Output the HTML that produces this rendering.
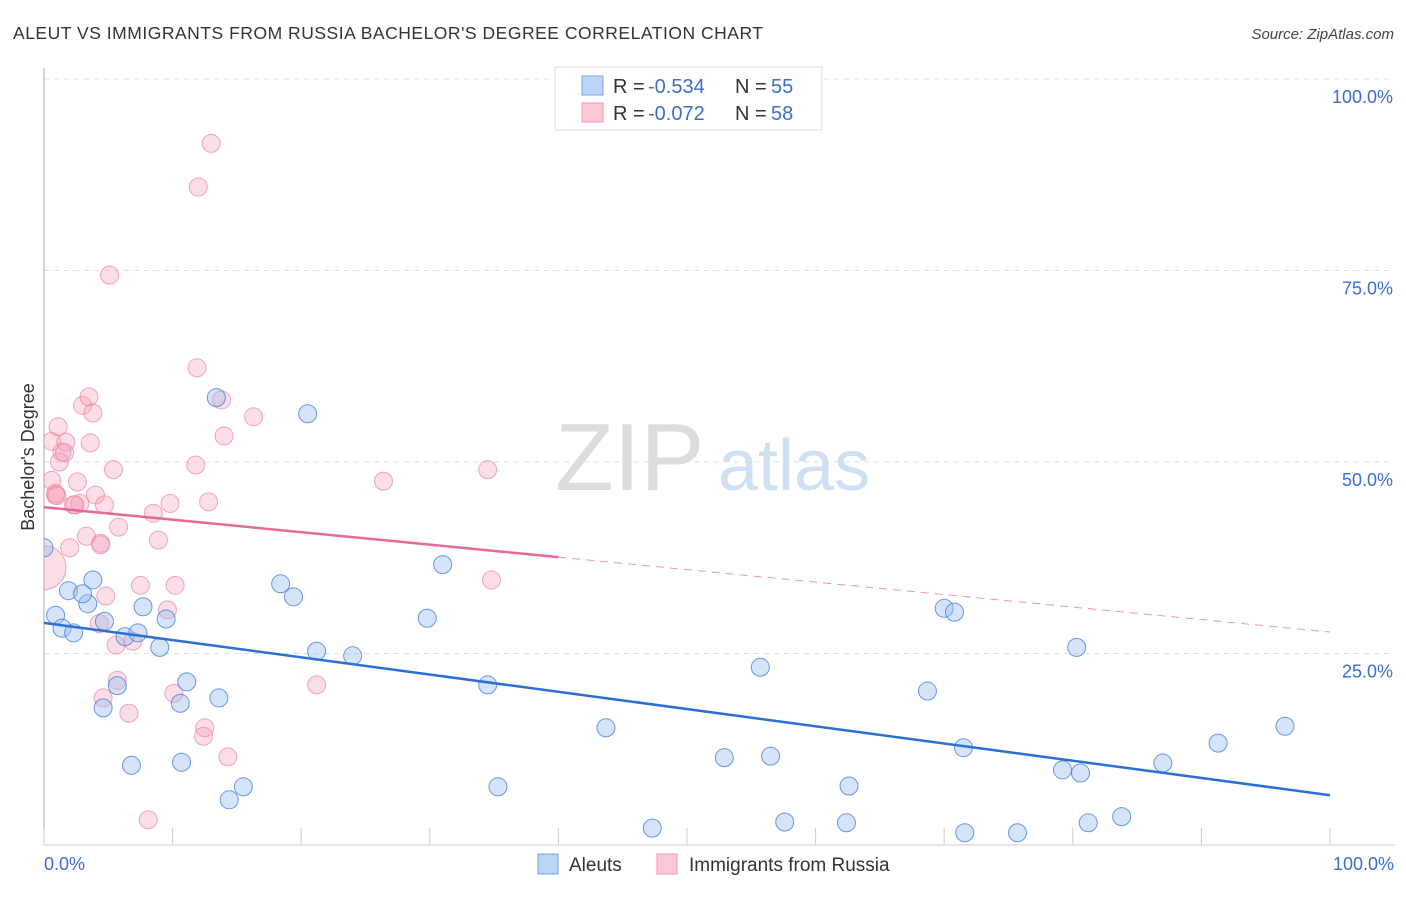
<!DOCTYPE html>
<html><head><meta charset="utf-8"><style>
body{margin:0;background:#fff;font-family:"Liberation Sans",sans-serif}
svg text{font-family:"Liberation Sans",sans-serif}
</style></head><body>
<svg id="chart" width="1406" height="892" xmlns="http://www.w3.org/2000/svg">
<text x="13" y="39" font-size="17.5" fill="#333" textLength="750" lengthAdjust="spacing">ALEUT VS IMMIGRANTS FROM RUSSIA BACHELOR'S DEGREE CORRELATION CHART</text>
<text x="1394" y="39" font-size="15" fill="#444" text-anchor="end" font-style="italic">Source: ZipAtlas.com</text>
<text x="555" y="490" font-size="96" fill="#dcdcdc" font-family="Liberation Serif">ZIP</text>
<text x="718" y="490" font-size="72" fill="#cfe0f4">atlas</text>
<g id="grid"></g>
<g id="marks"></g>
<text transform="translate(34,457) rotate(-90)" font-size="18" fill="#333" text-anchor="middle">Bachelor's Degree</text>
<text x="44" y="870" font-size="18" fill="#3a6fd0">0.0%</text>
<text x="1394" y="870" font-size="18" fill="#3a6fd0" text-anchor="end">100.0%</text>
<g>
<rect x="555" y="67" width="267" height="63" fill="#fff" stroke="#ddd"/>
<rect x="582" y="76" width="21" height="19" fill="#bcd4f6" stroke="#7aa6e6"/>
<rect x="582" y="103" width="21" height="19" fill="#fbc8d6" stroke="#f09ab4"/>
<text x="613" y="93" font-size="20" fill="#333">R =</text>
<text x="648" y="93" font-size="20" fill="#3a6fd0">-0.534</text>
<text x="735" y="93" font-size="20" fill="#333">N =</text>
<text x="771" y="93" font-size="20" fill="#3a6fd0">55</text>
<text x="613" y="120" font-size="20" fill="#333">R =</text>
<text x="648" y="120" font-size="20" fill="#3a6fd0">-0.072</text>
<text x="735" y="120" font-size="20" fill="#333">N =</text>
<text x="771" y="120" font-size="20" fill="#3a6fd0">58</text>
</g>
<g>
<rect x="538" y="854" width="20" height="20" fill="#bcd4f6" stroke="#7aa6e6"/>
<text x="569" y="871" font-size="19" fill="#333">Aleuts</text>
<rect x="657" y="854" width="20" height="20" fill="#fbc8d6" stroke="#f09ab4"/>
<text x="689" y="871" font-size="19" fill="#333">Immigrants from Russia</text>
</g>
</svg>
<script>
const yTicks=[100,75,50,25];
const yTickLabels=["100.0%","75.0%","50.0%","25.0%"];
const xTicks=[0,10,20,30,40,50,60,70,80,90,100];
const aleutX=[0,0.9,1.4,2.3,1.9,3.4,3.0,3.8,4.7,4.6,5.7,6.3,7.3,7.7,6.8,9.0,9.5,10.6,11.1,10.7,13.6,14.4,15.5,13.4,18.4,19.4,20.5,21.2,24.0,29.8,31.0,34.5,35.3,43.7,47.3,52.9,55.7,56.5,57.6,62.4,62.6,68.7,70.0,70.8,71.5,71.6,75.7,79.2,80.6,80.3,81.2,83.8,87.0,91.3,96.5];
const aleutY=[38.8,30.0,28.3,27.7,33.2,31.5,32.8,34.6,29.2,17.9,20.8,27.2,27.7,31.1,10.4,25.8,29.5,18.5,21.3,10.8,19.2,5.9,7.6,58.4,34.1,32.4,56.3,25.3,24.7,29.6,36.6,20.9,7.6,15.3,2.2,11.4,23.2,11.6,3.0,2.9,7.7,20.1,30.9,30.4,12.7,1.6,1.6,9.8,9.4,25.8,2.9,3.7,10.7,13.3,15.5];
const russiaX=[0,0.6,0.9,0.6,1.1,1.4,1.7,1.2,2.0,2.3,2.6,2.8,3.0,3.5,3.8,3.6,4.0,4.4,4.7,5.4,5.8,5.1,3.3,4.3,4.8,4.6,5.7,5.6,6.6,6.9,7.5,8.5,8.9,9.8,10.2,9.6,10.1,12.0,13.0,11.9,11.8,12.8,12.5,12.4,14.3,13.8,14.0,16.3,21.2,26.4,34.5,34.8,8.1,1.6,2.4,0.9,4.4,1.0];
const russiaY=[36.2,47.6,45.7,52.7,54.6,51.3,52.6,50.0,38.8,44.4,47.4,44.6,57.4,58.5,56.4,52.5,45.7,39.4,44.4,49.0,41.5,74.4,40.3,28.9,32.5,19.2,21.5,26.1,17.2,26.6,33.9,43.3,39.8,44.6,33.9,30.7,19.8,85.9,91.6,62.3,49.6,44.8,15.3,14.2,11.5,58.1,53.4,55.9,20.9,47.5,49.0,34.6,3.3,51.2,44.4,45.9,39.2,45.6];
const aleutTrend=[29.0,6.5];
const russiaTrend=[44.1,27.8];
const russiaSolidEnd=40;
const X=v=>44+v*12.86, Y=v=>845-v*7.66;
const NS="http://www.w3.org/2000/svg";
function mk(tag,attrs,parent){const e=document.createElementNS(NS,tag);for(const k in attrs)e.setAttribute(k,attrs[k]);parent.appendChild(e);return e;}
const grid=document.getElementById('grid'), marks=document.getElementById('marks');
yTicks.forEach((t,i)=>{
 const l=mk('line',{x1:44,x2:1395,y1:Y(t),y2:Y(t),stroke:'#ddd','stroke-dasharray':'5,5'},grid);
 
 
 const tx=mk('text',{x:1393,y:Y(t)+24,'font-size':18,fill:'#3a6fd0','text-anchor':'end'},grid);
 tx.textContent=yTickLabels[i];
 
 
});
const ax=mk('line',{x1:44,x2:1395,y1:845,y2:845,stroke:'#ccc'},grid);


const ay=mk('line',{x1:44,x2:44,y1:68,y2:845,stroke:'#aaa'},grid);


xTicks.forEach(t=>{const l=mk('line',{x1:X(t),x2:X(t),y1:828,y2:845,stroke:'#ccc'},grid);
 
 });
const defs=mk('defs',{},marks);const cp=mk('clipPath',{id:'cp'},defs);mk('rect',{x:44,y:60,width:1360,height:785},cp);
const pts=mk('g',{'clip-path':'url(#cp)'},marks);
russiaX.forEach((x,i)=>{const c=mk('circle',{cx:X(x),cy:Y(russiaY[i]),r:i===0?22:9,fill:'rgba(246,160,186,0.35)',stroke:'rgba(236,130,160,0.7)','stroke-width':1},pts);
 
 });
aleutX.forEach((x,i)=>{const c=mk('circle',{cx:X(x),cy:Y(aleutY[i]),r:9,fill:'rgba(150,188,240,0.4)',stroke:'rgba(60,120,220,0.75)','stroke-width':1},pts);
 
 });
const rt=v=>russiaTrend[0]+(russiaTrend[1]-russiaTrend[0])*v/100;
const l1=mk('line',{x1:X(0),y1:Y(aleutTrend[0]),x2:X(100),y2:Y(aleutTrend[1]),stroke:'#2a6fd6','stroke-width':2.5},marks);


const l2=mk('line',{x1:X(0),y1:Y(rt(0)),x2:X(russiaSolidEnd),y2:Y(rt(russiaSolidEnd)),stroke:'#e8689a','stroke-width':2.5},marks);


const l3=mk('line',{x1:X(russiaSolidEnd),y1:Y(rt(russiaSolidEnd)),x2:X(100),y2:Y(rt(100)),stroke:'#e8689a','stroke-width':1,'stroke-dasharray':'8,6','opacity':0.7},marks);


</script>
</body></html>
